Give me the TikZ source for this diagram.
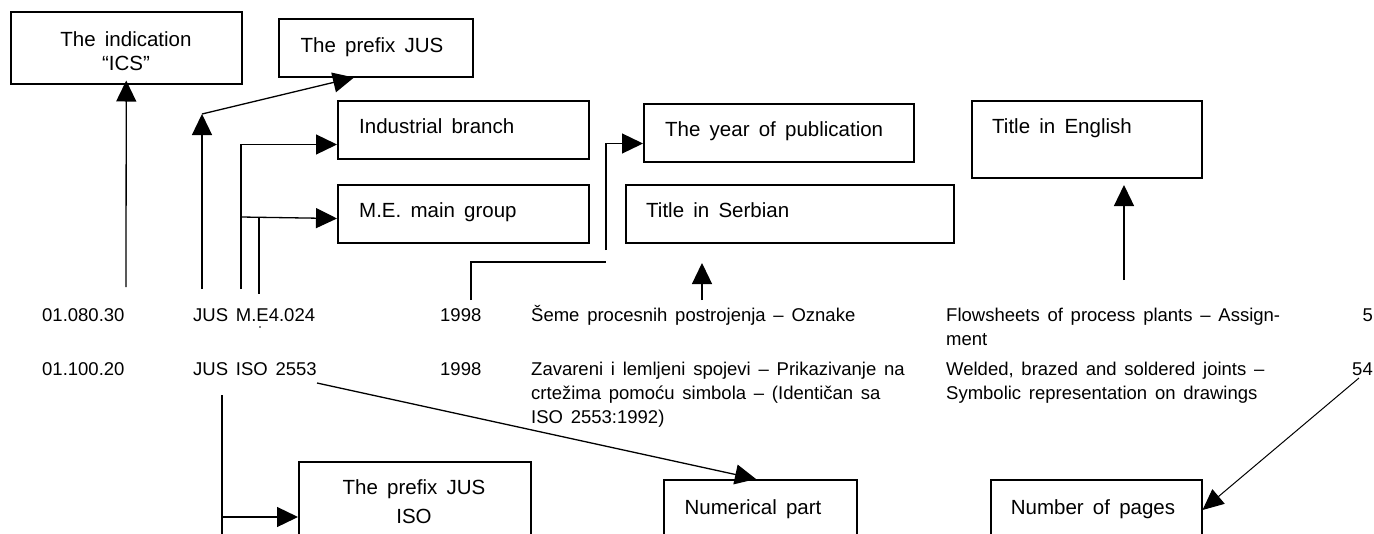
\documentclass[tikz,border=0pt]{standalone}
\usepackage{fontspec}
\setmainfont{Liberation Sans}
\usetikzlibrary{arrows.meta,calc}
\newcommand\boxfont{\fontsize{20.5}{24}\selectfont\spaceskip=0.45em plus 0.1em minus 0.05em\relax}
\newcommand\rowfont{\fontsize{18.5}{23.5}\selectfont\spaceskip=0.42em plus 0.1em minus 0.05em\relax}
\tikzset{
  box/.style={draw, line width=1.5pt, inner sep=0pt, anchor=north west},
  lbl/.style={font=\boxfont, inner sep=0pt},
  rowtxt/.style={font=\rowfont, inner sep=0pt, anchor=base west},
  conn/.style={line width=1.3pt, -{Triangle[length=21pt,width=20pt]}},
  thinconn/.style={line width=1pt, -{Triangle[length=21pt,width=19pt]}},
  plain/.style={line width=1.3pt}
}
\begin{document}
\begin{tikzpicture}[x=1pt,y=-1pt]
\clip (0,0) rectangle (1374,533);
\fill[white] (0,0) rectangle (1374,533);

% boxes
\node[box, minimum width=231pt, minimum height=72pt] (ics) at (10,11) {};
\node[box, minimum width=194pt, minimum height=58pt] (prefix) at (278,18) {};
\node[box, minimum width=251pt, minimum height=58pt] (ind) at (337,100) {};
\node[box, minimum width=251pt, minimum height=58pt] (meg) at (337,184) {};
\node[box, minimum width=270pt, minimum height=58pt] (year) at (643,103) {};
\node[box, minimum width=328pt, minimum height=58pt] (serb) at (625,184) {};
\node[box, minimum width=230pt, minimum height=77pt] (eng) at (971,100) {};
\node[box, minimum width=232pt, minimum height=110pt] (pjiso) at (298,461) {};
\node[box, minimum width=193pt, minimum height=110pt] (num) at (663,479) {};
\node[box, minimum width=211pt, minimum height=110pt] (pages) at (990,479) {};

% box labels
\node[lbl, anchor=base] (icsA) at (126,46) {The indication};
\node[lbl, anchor=base] (icsB) at (126,70) {“ICS”};
\node[lbl, anchor=base] (prefixT) at (372,52) {The prefix JUS};
\node[lbl, anchor=base west] (indT) at (359,133) {Industrial branch};
\node[lbl, anchor=base west] (megT) at (359,217) {M.E. main group};
\node[lbl, anchor=base west] (yearT) at (665,136) {The year of publication};
\node[lbl, anchor=base west] (serbT) at (646,217) {Title in Serbian};
\node[lbl, anchor=base west] (engT) at (992,133) {Title in English};
\node[lbl, anchor=base] (pjisoA) at (414,494) {The prefix JUS};
\node[lbl, anchor=base] (pjisoB) at (414,523) {ISO};
\node[lbl, anchor=base] (numT) at (753,514) {Numerical part};
\node[lbl, anchor=base] (pagesT) at (1093,514) {Number of pages};

% row 1
\node[rowtxt] (r1ics) at (42,321) {01.080.30};
\node[rowtxt] (r1jus) at (193,321) {JUS M.E4.024};
\node[rowtxt] (r1year) at (440,321) {1998};
\node[rowtxt] (r1serb) at (531,321) {Šeme procesnih postrojenja – Oznake};
\node[rowtxt] (r1engA) at (946,321) {Flowsheets of process plants – Assign-};
\node[rowtxt] (r1engB) at (946,345) {ment};
\node[rowtxt, anchor=base east] (r1pages) at (1373,321) {5};

% row 2
\node[rowtxt] (r2ics) at (42,375) {01.100.20};
\node[rowtxt] (r2jus) at (193,375) {JUS ISO 2553};
\node[rowtxt] (r2year) at (440,375) {1998};
\node[rowtxt] (r2serbA) at (531,375) {Zavareni i lemljeni spojevi – Prikazivanje na};
\node[rowtxt] (r2serbB) at (531,399) {crtežima pomoću simbola – (Identičan sa};
\node[rowtxt] (r2serbC) at (531,423) {ISO 2553:1992)};
\node[rowtxt] (r2engA) at (946,375) {Welded, brazed and soldered joints –};
\node[rowtxt] (r2engB) at (946,399) {Symbolic representation on drawings};
\node[rowtxt, anchor=base east] (r2pages) at (1373,375) {54};

% connector coordinates
\coordinate (icsfoot) at (126,287);
\coordinate (jusfoot) at (202,289);
\coordinate (juselbow) at (202,114);
\coordinate (mefoot) at (241,289);
\coordinate (mebranch) at (241,217);
\coordinate (e4top) at (259,217);
\coordinate (e4foot) at (259,294);
\coordinate (yfoot) at (471,300);
\coordinate (ymid) at (606,262);
\coordinate (ystart) at (606,250);
\coordinate (sfoot) at (702,300);
\coordinate (stip) at (702,263);
\coordinate (efoot) at (1124,280);
\coordinate (etip) at (1124,185);
\coordinate (isotop) at (222,395);
\coordinate (isobot) at (222,540);
\coordinate (isobranch) at (222,517);
\coordinate (numstart) at (317,383);
\coordinate (pagestart) at (1359,378);

% connectors
\draw[conn] (icsfoot) -- ($(ics.south)+(0,-4)$);
\draw[conn] (jusfoot) -- (juselbow);
\draw[conn] (juselbow) -- ($(prefix.south west)+(76,0)$);
\draw[conn] (mefoot) |- ($(ind.south west)+(0,-15)$);
\draw[conn] (mebranch) -- ($(meg.south west)+(0,-25)$);
\draw[plain] (e4top) -- (e4foot);
\draw[plain] (yfoot) |- (ymid);
\draw[conn] (ystart) |- ($(year.south west)+(0,-19)$);
\draw[conn] (sfoot) -- (stip);
\draw[conn] (efoot) -- (etip);
\draw[plain] (isotop) -- (isobot);
\draw[conn] (isobranch) -- ($(pjiso.north west)+(0,56)$);
\draw[conn] (numstart) -- ($(num.north west)+(93,0)$);
\draw[thinconn] (pagestart) -- ($(pages.north east)+(0,31)$);
\fill (260,327) circle (0.8);
\end{tikzpicture}
\end{document}
